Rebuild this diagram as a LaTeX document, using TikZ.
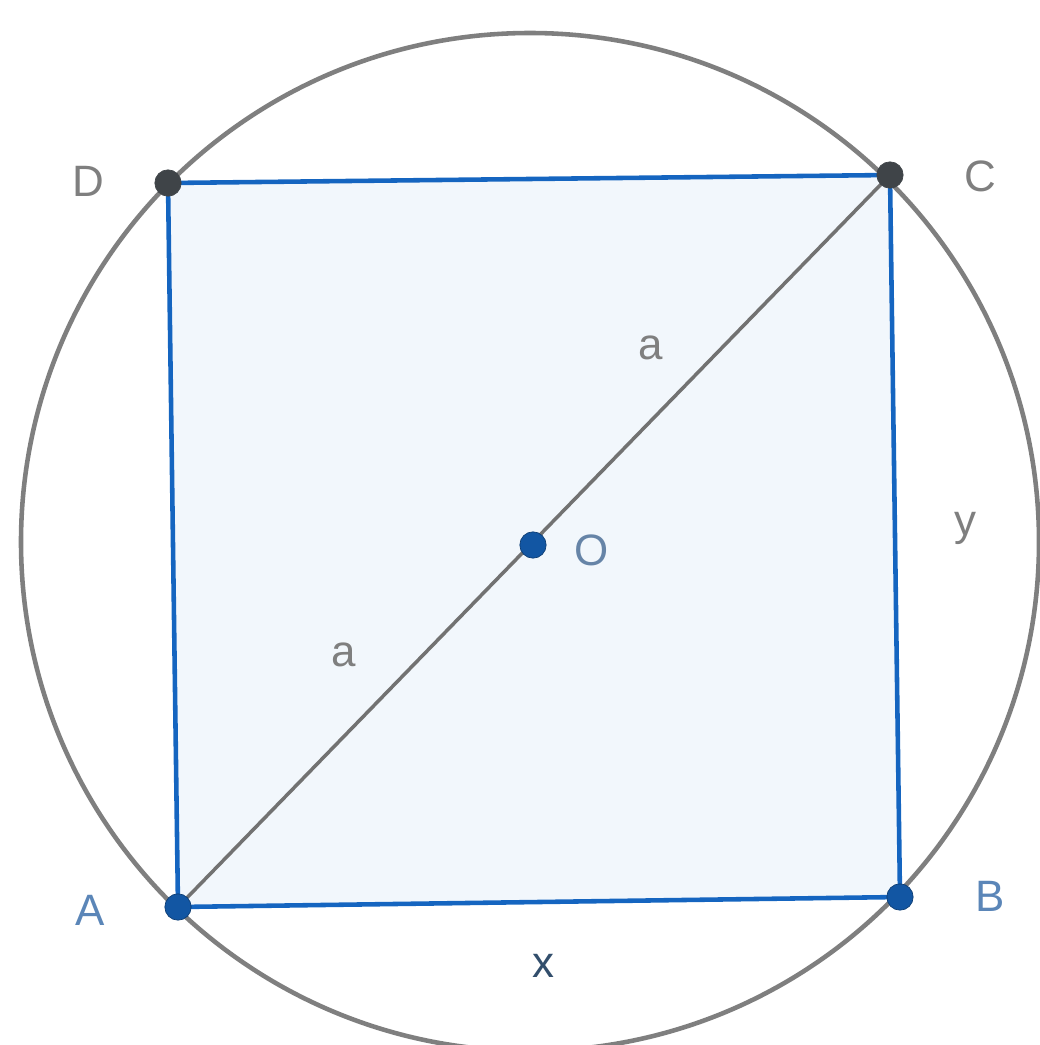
\documentclass[tikz,border=0pt]{standalone}
\usepackage{fontspec}
\setmainfont{Liberation Sans}
\usetikzlibrary{calc}
\definecolor{GGBlue}{HTML}{1565C0}
\definecolor{GGFill}{HTML}{F2F7FC}
\definecolor{GGGrey}{HTML}{7F7F7F}
\definecolor{GGDark}{HTML}{3F4448}
\definecolor{GGLabel}{HTML}{5B86B8}
\tikzset{side/.style={draw=GGBlue,line width=2.6pt}, ring/.style={draw=GGGrey,line width=2.6pt}, diag/.style={draw=GGGrey!90!black,line width=2pt}, ptblue/.style={circle,fill=GGBlue!85!black,draw=GGBlue!60!black,inner sep=0pt,minimum size=15pt}, ptdark/.style={circle,fill=GGDark,draw=GGDark,inner sep=0pt,minimum size=15pt}, lbl/.style={font=\fontsize{25}{28}\selectfont,text=GGGrey}, lblblue/.style={lbl,text=GGLabel}}
\begin{document}
\begin{tikzpicture}[x=0.02cm,y=-0.02cm]
\useasboundingbox (0,0) rectangle (1040,1045);\clip (0,0) rectangle (1040,1045);
\coordinate (A) at (178,907);\coordinate (B) at (900,897);\coordinate (C) at (890,175);\coordinate (D) at (168,183);\coordinate (O) at (530,542);
\fill[GGFill] (A)--(B)--(C)--(D)--cycle;
\draw[ring] (O) circle[radius=509];
\draw[diag] (A)--(C);
\draw[side] (A)--(B)--(C)--(D)--cycle;
\node[ptdark] (pD) at (D) {};\node[ptdark] (pC) at (C) {};\node[ptblue] (pA) at (A) {};\node[ptblue] (pB) at (B) {};\node[ptblue] (pO) at (533,545) {};
\node[lbl] (lD) at (88,181) {D};\node[lbl] (lC) at (980,176) {C};\node[lblblue] (lA) at (90,910) {A};\node[lblblue] (lB) at (990,896) {B};\node[lbl,text=GGLabel!70!GGGrey] (lO) at (592,550) {O};
\node[lbl] (la1) at (651,348) {a};\node[lbl] (la2) at (344,655) {a};\node[lbl] (ly) at (965,528) {y};\node[lbl,text=GGDark!70!GGBlue] (lx) at (543,966) {x};
\end{tikzpicture}
\end{document}
